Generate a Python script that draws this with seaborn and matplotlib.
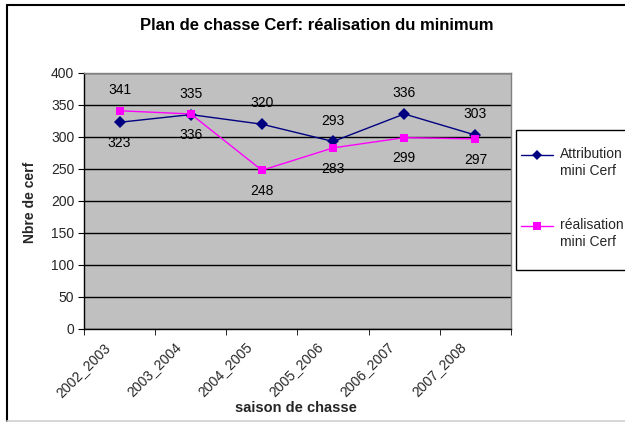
import matplotlib
matplotlib.use("Agg")
import matplotlib.pyplot as plt
from matplotlib.patches import Rectangle
from matplotlib.lines import Line2D
import matplotlib.transforms as mtransforms
import seaborn as sns
import pandas as pd

saisons = ["2002_2003", "2003_2004", "2004_2005", "2005_2006", "2006_2007", "2007_2008"]
attribution = [323, 335, 320, 293, 336, 303]
realisation = [341, 336, 248, 283, 299, 297]
# label placement: +1 above, -1 below
attr_label_side = [-1, 1, 1, 1, 1, 1]
real_label_side = [1, -1, -1, -1, -1, -1]
series_names = ["Attribution\nmini Cerf", "réalisation\nmini Cerf"]
y_ticks = [0, 50, 100, 150, 200, 250, 300, 350, 400]

sns.set_style("white")
plt.rcParams["font.family"] = ["Liberation Sans", "DejaVu Sans"]

df = pd.DataFrame({
    "saison": saisons * 2,
    "valeur": attribution + realisation,
    "serie": [series_names[0]] * len(saisons) + [series_names[1]] * len(saisons),
})
df["x"] = df["saison"].map({s: i for i, s in enumerate(saisons)})

colors = {series_names[0]: "#000080", series_names[1]: "#FF00FF"}
markers = {series_names[0]: "D", series_names[1]: "s"}

fig = plt.figure(figsize=(6.25, 4.22), dpi=100)
ax = fig.add_axes([84 / 625, 1 - 329 / 422, 427 / 625, 256 / 422])
ax.set_facecolor("#C0C0C0")

sns.lineplot(data=df, x="x", y="valeur", hue="serie", style="serie",
             palette=colors, markers=markers,
             dashes=False, markersize=6, linewidth=1.0, markeredgewidth=0,
             legend=False, ax=ax, sort=False)

for i, (v, side) in enumerate(zip(attribution, attr_label_side)):
    ax.annotate(str(v), (i, v), xytext=(0, 15 * side), textcoords="offset points",
                ha="center", va="center", fontsize=10, color="black")
for i, (v, side) in enumerate(zip(realisation, real_label_side)):
    ax.annotate(str(v), (i, v), xytext=(0, 15 * side), textcoords="offset points",
                ha="center", va="center", fontsize=10, color="black")

ax.set_xlim(-0.5, len(saisons) - 0.5)
ax.set_ylim(0, 400)
ax.set_yticks(y_ticks)
ax.set_yticklabels([str(t) for t in y_ticks], fontsize=10)
ax.yaxis.grid(True, color="black", linewidth=1.0)
ax.set_axisbelow(True)

# category tick labels, drawn as rotated text at each category position
ax.set_xticks(range(len(saisons)))
ax.set_xticklabels([])
offset = mtransforms.ScaledTranslation(-12 / 100, -16 / 100, fig.dpi_scale_trans)
lab_trans = ax.get_xaxis_transform() + offset
for i, s in enumerate(saisons):
    ax.text(i, 0, s, transform=lab_trans, rotation=45, ha="right", va="center",
            rotation_mode="anchor", fontsize=10)
ax.set_xticks([i - 0.5 for i in range(len(saisons) + 1)], minor=True)
ax.tick_params(axis="x", which="major", length=0)
ax.tick_params(axis="x", which="minor", length=4, color="black", direction="out", bottom=True)
ax.tick_params(axis="y", length=4, color="black", direction="out", left=True, pad=3)

for s in ["top", "right"]:
    ax.spines[s].set_color("#808080")
    ax.spines[s].set_linewidth(1.0)
for s in ["left", "bottom"]:
    ax.spines[s].set_color("black")
    ax.spines[s].set_linewidth(1.0)

ax.set_xlabel("")
ax.set_ylabel("")
fig.text(30 / 625, 1 - 202 / 422, "Nbre de cerf", rotation=90, ha="center", va="center",
         fontsize=10, fontweight="bold")
fig.text(296 / 625, 1 - 408 / 422, "saison de chasse", ha="center", va="center",
         fontsize=10.5, fontweight="bold")
fig.text(317 / 625, 1 - 25 / 422, "Plan de chasse Cerf: réalisation du minimum",
         ha="center", va="center", fontsize=12, fontweight="bold", color="black")

# outer chart border: black top & left, light gray bottom
fig.lines.append(Line2D([7 / 625, 7 / 625], [1 - 421 / 422, 1 - 5 / 422],
                        transform=fig.transFigure, color="black", linewidth=1.5))
fig.lines.append(Line2D([7 / 625, 1.0], [1 - 5 / 422, 1 - 5 / 422],
                        transform=fig.transFigure, color="black", linewidth=1.5))
fig.lines.append(Line2D([7 / 625, 1.0], [1 - 420.5 / 422, 1 - 420.5 / 422],
                        transform=fig.transFigure, color="#D0D0D0", linewidth=1.2))
# legend box
fig.patches.append(Rectangle((516 / 625, 1 - 270 / 422), 130 / 625, 140 / 422,
                             transform=fig.transFigure, fill=True, facecolor="white",
                             edgecolor="black", linewidth=1.0))

# legend entries (handle aligned with first text line, Excel style)
legend_rows_px = [155, 226]
for name, ypx in zip(series_names, legend_rows_px):
    yf = 1 - ypx / 422
    fig.lines.append(Line2D([521 / 625, 553 / 625], [yf, yf], transform=fig.transFigure,
                            color=colors[name], linewidth=1.0))
    fig.lines.append(Line2D([537 / 625], [yf], transform=fig.transFigure,
                            color=colors[name], marker=markers[name],
                            markersize=5 if markers[name] == "D" else 6,
                            markeredgewidth=0, linestyle="none"))
    fig.text(560 / 625, 1 - (ypx - 8) / 422, name, ha="left", va="top",
             fontsize=10, linespacing=1.25)

fig.savefig("out.png", dpi=100)
